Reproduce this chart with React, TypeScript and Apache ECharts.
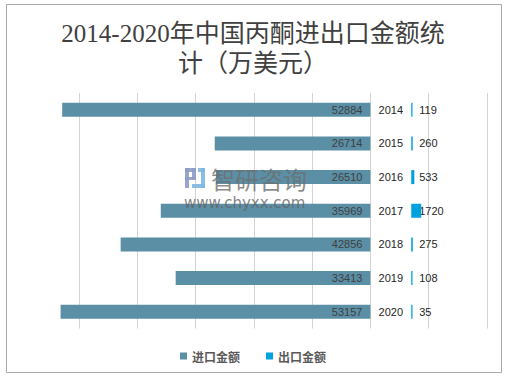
import React, { useEffect, useRef } from "react";
import * as echarts from "echarts";

const years = ["2014", "2015", "2016", "2017", "2018", "2019", "2020"];
const imports = [52884, 26714, 26510, 35969, 42856, 33413, 53157];
const exports = [119, 260, 533, 1720, 275, 108, 35];
const gapValue = 7000;

export default function App() {
  const ref = useRef<HTMLDivElement>(null);
  useEffect(() => {
    const chart = echarts.init(ref.current!, undefined, { renderer: "svg" });
    const labelFont = "'Liberation Sans', Arial, sans-serif";
    const wmZ = 100;
    chart.setOption({
      animation: false,
      backgroundColor: "#ffffff",
      title: {
        text: "2014-2020年中国丙酮进出口金额统\n计（万美元）",
        left: "center",
        top: 13,
        textStyle: {
          fontFamily: "'Liberation Serif', 'Noto Sans CJK SC', serif",
          fontSize: 25,
          fontWeight: "normal",
          lineHeight: 30,
          color: "#404040",
        },
      },
      legend: {
        data: ["进口金额", "出口金额"],
        left: "center",
        top: 345,
        icon: "rect",
        itemWidth: 7,
        itemHeight: 7,
        itemGap: 26,
        textStyle: {
          fontFamily: "'Noto Sans CJK SC', sans-serif",
          fontSize: 12,
          fontWeight: "bold",
          color: "#595959",
        },
      },
      grid: { left: 79, top: 93, width: 408, height: 235.5 },
      xAxis: {
        type: "value",
        min: -50000,
        max: 20000,
        interval: 10000,
        axisLabel: { show: false },
        axisLine: { show: false },
        axisTick: { show: false },
        splitLine: { show: true, lineStyle: { color: "#d3d3d3", width: 1 } },
      },
      yAxis: {
        type: "category",
        data: years,
        inverse: true,
        axisLabel: { show: false },
        axisLine: { show: false },
        axisTick: { show: false },
        splitLine: { show: false },
      },
      series: [
        {
          name: "进口金额",
          type: "bar",
          data: imports.map((v) => -v),
          barWidth: 14,
          barGap: "-100%",
          clip: false,
          itemStyle: { color: "#5b8fa6" },
          label: {
            show: true,
            position: "insideRight",
            distance: 8,
            formatter: (p: any) => String(imports[p.dataIndex]),
            fontFamily: labelFont,
            fontSize: 11,
            color: "#404040",
          },
        },
        {
          name: "p1",
          type: "bar",
          stack: "exp",
          data: years.map(() => gapValue),
          barWidth: 14,
          barGap: "-100%",
          itemStyle: { color: "rgba(0,0,0,0)" },
          label: {
            show: true,
            position: "inside",
            formatter: (p: any) => years[p.dataIndex],
            fontFamily: labelFont,
            fontSize: 11,
            color: "#262626",
          },
          emphasis: { disabled: true },
        },
        {
          name: "出口金额",
          type: "bar",
          stack: "exp",
          data: exports,
          barWidth: 14,
          barGap: "-100%",
          barMinHeight: 1.3,
          itemStyle: { color: "#00a2de" },
        },
        {
          name: "p2",
          type: "bar",
          stack: "lab",
          data: years.map(() => gapValue),
          barWidth: 14,
          barGap: "-100%",
          itemStyle: { color: "rgba(0,0,0,0)" },
          label: {
            show: true,
            position: "right",
            distance: 8,
            formatter: (p: any) => String(exports[p.dataIndex]),
            fontFamily: labelFont,
            fontSize: 11,
            color: "#262626",
          },
          emphasis: { disabled: true },
          z: 1,
        },
      ],
      graphic: [
        {
          type: "rect",
          shape: { x: 6.5, y: 4.5, width: 495, height: 368 },
          style: { fill: "none", stroke: "#aaaaaa", lineWidth: 1 },
          silent: true,
        },
        { type: "rect", z: wmZ, silent: true, shape: { x: 185, y: 168, width: 4, height: 20 }, style: { fill: "#8e9cc6", opacity: 0.9 } },
        { type: "rect", z: wmZ, silent: true, shape: { x: 185, y: 168, width: 11, height: 4 }, style: { fill: "#8e9cc6", opacity: 0.9 } },
        { type: "rect", z: wmZ, silent: true, shape: { x: 192, y: 168, width: 4, height: 11 }, style: { fill: "#8e9cc6", opacity: 0.9 } },
        { type: "rect", z: wmZ, silent: true, shape: { x: 185, y: 177, width: 11, height: 3 }, style: { fill: "#8e9cc6", opacity: 0.9 } },
        { type: "rect", z: wmZ, silent: true, shape: { x: 198, y: 168, width: 7, height: 4 }, style: { fill: "#7fb6e3", opacity: 0.9 } },
        { type: "rect", z: wmZ, silent: true, shape: { x: 201, y: 168, width: 4, height: 20 }, style: { fill: "#7fb6e3", opacity: 0.9 } },
        { type: "rect", z: wmZ, silent: true, shape: { x: 192, y: 184, width: 13, height: 4 }, style: { fill: "#7fb6e3", opacity: 0.9 } },
        {
          type: "text",
          z: wmZ,
          silent: true,
          x: 211,
          y: 166,
          style: {
            text: "智研咨询",
            fontFamily: "'Noto Sans CJK SC', sans-serif",
            fontSize: 24,
            fill: "rgba(110,110,110,0.8)",
            textVerticalAlign: "top",
          },
        },
        {
          type: "text",
          z: wmZ,
          silent: true,
          x: 184,
          y: 195,
          style: {
            text: "www.chyxx.com",
            fontFamily: "'DejaVu Sans', sans-serif",
            fontSize: 15,
            fill: "rgba(100,100,100,0.8)",
            textVerticalAlign: "top",
          },
        },
      ],
    });
    return () => chart.dispose();
  }, []);
  return (
    <div
      ref={ref}
      style={{ position: "absolute", left: 0, top: 0, width: 506, height: 377 }}
    />
  );
}
